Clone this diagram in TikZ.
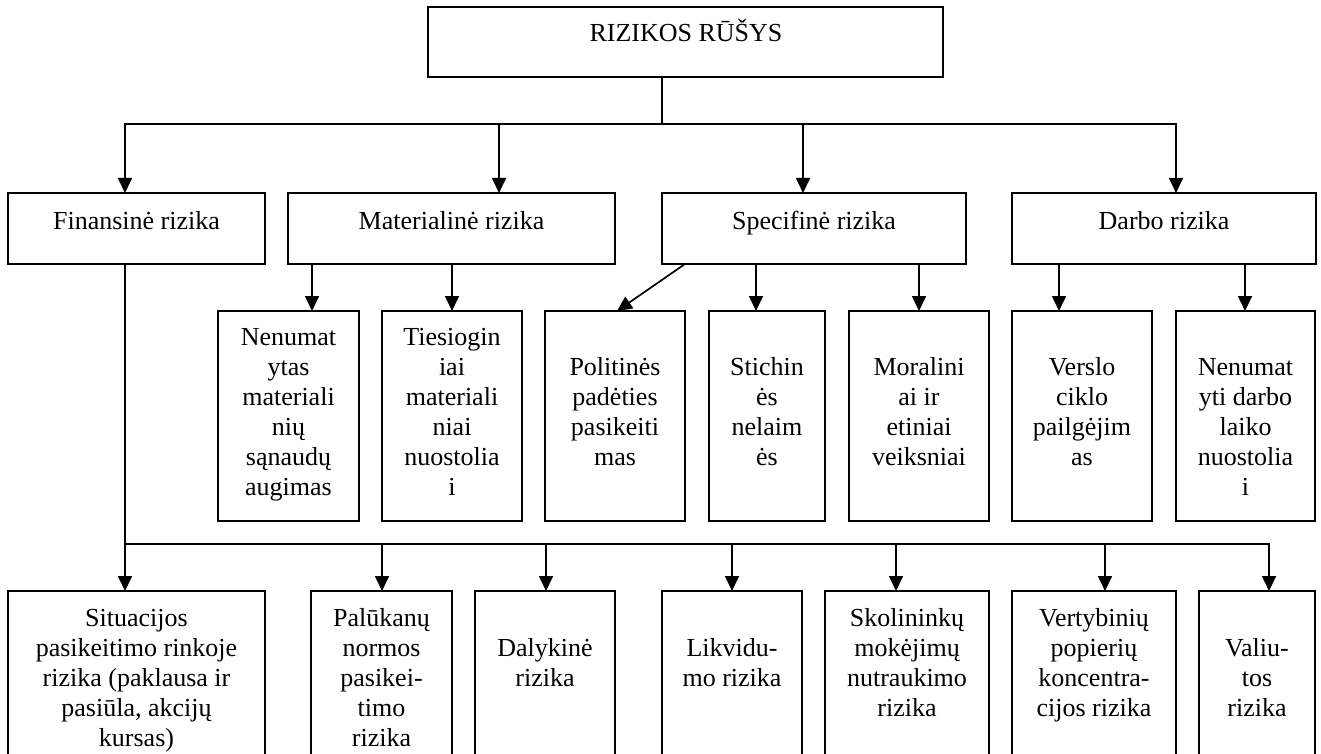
\documentclass[tikz,border=0pt]{standalone}
\usepackage{fontspec}
\setmainfont{Liberation Serif}
\usetikzlibrary{arrows.meta}
\newcommand{\mlines}[1]{\begin{tabular}{@{}c@{}}#1\end{tabular}}
\begin{document}
\begin{tikzpicture}[x=1pt,y=-1pt,
  ln/.style={line width=1.7pt, line cap=rect},
  arr/.style={line width=1.7pt, -{Triangle[length=15pt,width=14pt]}},
  box/.style={draw, line width=1.7pt, anchor=north west, inner sep=0pt, outer sep=0pt},
  txt/.style={inner sep=0pt, font=\fontsize{26}{30}\selectfont}]
\useasboundingbox (0,0) rectangle (1321,754);
\clip (0,0) rectangle (1321,754);

% column coordinates
\coordinate (h1) at (0,124);
\coordinate (h2) at (0,544);
\coordinate (xt) at (662,0);
\coordinate (xa) at (125,0);
\coordinate (xb) at (499,0);
\coordinate (xc) at (803,0);
\coordinate (xd) at (1176,0);
\coordinate (m1) at (312,0);
\coordinate (m2) at (452,0);
\coordinate (s0) at (685,0);
\coordinate (p0) at (617,0);
\coordinate (s1) at (756,0);
\coordinate (s2) at (919,0);
\coordinate (d1) at (1059,0);
\coordinate (d2) at (1245,0);
\coordinate (f2) at (382,0);
\coordinate (f3) at (546,0);
\coordinate (f4) at (732,0);
\coordinate (f5) at (896,0);
\coordinate (f6) at (1105,0);
\coordinate (f7) at (1269,0);

% top
\node[box, minimum width=515pt, minimum height=70pt] (top) at (428,7) {};
\node[txt] (topt) at (686,35) {\mlines{RIZIKOS RŪŠYS}};

% row 2
\node[box, minimum width=257pt, minimum height=71pt] (fin) at (8,193) {};
\node[box, minimum width=327pt, minimum height=71pt] (mat) at (288,193) {};
\node[box, minimum width=304pt, minimum height=71pt] (spec) at (662,193) {};
\node[box, minimum width=304pt, minimum height=71pt] (darbo) at (1012,193) {};
\node[txt] (fint) at (136.5,223) {\mlines{Finansinė rizika}};
\node[txt] (matt) at (451.5,223) {\mlines{Materialinė rizika}};
\node[txt] (spect) at (814,223) {\mlines{Specifinė rizika}};
\node[txt] (darbot) at (1164,223) {\mlines{Darbo rizika}};

% row 3
\node[box, minimum width=141pt, minimum height=210pt] (n1) at (218,311) {};
\node[box, minimum width=140pt, minimum height=210pt] (n2) at (382,311) {};
\node[box, minimum width=140pt, minimum height=210pt] (n3) at (545,311) {};
\node[box, minimum width=116pt, minimum height=210pt] (n4) at (709,311) {};
\node[box, minimum width=140pt, minimum height=210pt] (n5) at (849,311) {};
\node[box, minimum width=140pt, minimum height=210pt] (n6) at (1012,311) {};
\node[box, minimum width=139pt, minimum height=210pt] (n7) at (1176,311) {};
\node[txt] (n1t) at (288.5,414) {\mlines{Nenumat\\ytas\\materiali\\nių\\sąnaudų\\augimas}};
\node[txt] (n2t) at (452,414) {\mlines{Tiesiogin\\iai\\materiali\\niai\\nuostolia\\i}};
\node[txt] (n3t) at (615,414) {\mlines{Politinės\\padėties\\pasikeiti\\mas}};
\node[txt] (n4t) at (767,414) {\mlines{Stichin\\ės\\nelaim\\ės}};
\node[txt] (n5t) at (919,414) {\mlines{Moralini\\ai ir\\etiniai\\veiksniai}};
\node[txt] (n6t) at (1082,414) {\mlines{Verslo\\ciklo\\pailgėjim\\as}};
\node[txt] (n7t) at (1245.5,429) {\mlines{Nenumat\\yti darbo\\laiko\\nuostolia\\i}};

% row 4
\node[box, minimum width=257pt, minimum height=179pt] (b1) at (8,591) {};
\node[box, minimum width=141pt, minimum height=179pt] (b2) at (311,591) {};
\node[box, minimum width=140pt, minimum height=179pt] (b3) at (475,591) {};
\node[box, minimum width=140pt, minimum height=179pt] (b4) at (662,591) {};
\node[box, minimum width=164pt, minimum height=179pt] (b5) at (825,591) {};
\node[box, minimum width=164pt, minimum height=179pt] (b6) at (1012,591) {};
\node[box, minimum width=116pt, minimum height=179pt] (b7) at (1199,591) {};
\node[txt] (b1t) at (136.5,680) {\mlines{Situacijos\\pasikeitimo rinkoje\\rizika (paklausa ir\\pasiūla, akcijų\\kursas)}};
\node[txt] (b2t) at (381.5,680) {\mlines{Palūkanų\\normos\\pasikei-\\timo\\rizika}};
\node[txt] (b3t) at (545,665) {\mlines{Dalykinė\\rizika}};
\node[txt] (b4t) at (732,665) {\mlines{Likvidu-\\mo rizika}};
\node[txt] (b5t) at (907,665) {\mlines{Skolininkų\\mokėjimų\\nutraukimo\\rizika}};
\node[txt] (b6t) at (1094,665) {\mlines{Vertybinių\\popierių\\koncentra-\\cijos rizika}};
\node[txt] (b7t) at (1257,680) {\mlines{Valiu-\\tos\\rizika}};

% connectors: top to row 2
\draw[ln] (top.south -| xt) -- (h1 -| xt);
\draw[ln] (h1 -| xa) -- (h1 -| xd);
\draw[arr] (h1 -| xa) -- (fin.north -| xa);
\draw[arr] (h1 -| xb) -- (mat.north -| xb);
\draw[arr] (h1 -| xc) -- (spec.north -| xc);
\draw[arr] (h1 -| xd) -- (darbo.north -| xd);

% row 2 to row 3
\draw[arr] (mat.south -| m1) -- (n1.north -| m1);
\draw[arr] (mat.south -| m2) -- (n2.north -| m2);
\draw[arr] (spec.south -| s0) -- (n3.north -| p0);
\draw[arr] (spec.south -| s1) -- (n4.north -| s1);
\draw[arr] (spec.south -| s2) -- (n5.north -| s2);
\draw[arr] (darbo.south -| d1) -- (n6.north -| d1);
\draw[arr] (darbo.south -| d2) -- (n7.north -| d2);

% financial risk to row 4
\draw[ln] (fin.south -| xa) -- (h2 -| xa) -- (h2 -| f7);
\draw[arr] (h2 -| xa) -- (b1.north -| xa);
\draw[arr] (h2 -| f2) -- (b2.north -| f2);
\draw[arr] (h2 -| f3) -- (b3.north -| f3);
\draw[arr] (h2 -| f4) -- (b4.north -| f4);
\draw[arr] (h2 -| f5) -- (b5.north -| f5);
\draw[arr] (h2 -| f6) -- (b6.north -| f6);
\draw[arr] (h2 -| f7) -- (b7.north -| f7);
\end{tikzpicture}
\end{document}
